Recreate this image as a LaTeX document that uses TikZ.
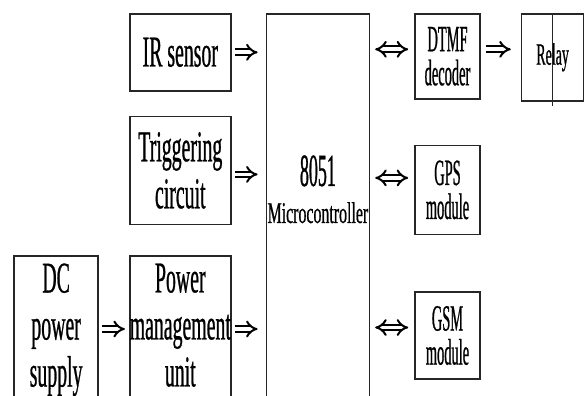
\documentclass[tikz,border=0pt]{standalone}
\usepackage{fontspec}
\setmainfont{Liberation Serif}
\newfontfamily\boxfont[FakeStretch=0.45, FakeBold=0.6]{Liberation Serif}
\newfontfamily\narrowfont[FakeStretch=0.39, FakeBold=0.6]{Liberation Serif}
\newfontfamily\mcufont[FakeStretch=0.53, FakeBold=0.6]{Liberation Serif}
\usetikzlibrary{arrows.meta, positioning}

\begin{document}
\begin{tikzpicture}[
  x=1pt, y=-1pt,
  block/.style={rectangle, draw=black!85, line width=1.6pt, inner sep=0pt, align=center, font=\boxfont\fontsize{44}{47}\selectfont},
  modblock/.style={block, minimum width=65pt, font=\narrowfont\fontsize{37}{34}\selectfont},
  arrow/.style={double, double distance=3.6pt, line width=2pt, draw=black, -{Implies[scale=1.9]}},
  biarrow/.style={arrow, {Implies[scale=1.9]}-{Implies[scale=1.9]}}
]
\useasboundingbox (0,0) rectangle (584,396);
\clip (0,0) rectangle (584,396);

% Inputs
\node[block, minimum width=101pt, minimum height=77pt, anchor=north west] (ir) at (129,13) {IR sensor};
\node[block, minimum width=101pt, minimum height=108pt, below=24pt of ir] (trig) {Triggering\\circuit};
\node[block, minimum width=101pt, minimum height=150pt, text depth=12pt, below=30pt of trig] (pmu) {Power\\management\\unit};
\node[block, minimum width=84pt, minimum height=150pt, text depth=12pt, left=30pt of pmu] (dc) {DC\\power\\supply};

% Controller
\node[block, minimum width=103pt, minimum height=389pt, anchor=north west] (mcu) at ([xshift=34pt]ir.north east) {};
\node[align=center, inner sep=0pt, font=\narrowfont\fontsize{46}{37}\selectfont] (mcutext) at ([yshift=19pt]mcu.center) {8051\\{\mcufont\fontsize{30}{37}\selectfont Microcontroller}};

% Outputs
\node[modblock, minimum height=85pt, anchor=north west] (dtmf) at ([xshift=44pt]mcu.north east) {DTMF\\decoder};
\node[block, minimum width=62pt, minimum height=87pt, anchor=north west, font=\boxfont\fontsize{31}{34}\selectfont] (relay) at ([xshift=40pt]dtmf.north east) {Relay};
\node[modblock, minimum height=89pt, below=45pt of dtmf] (gps) {GPS\\module};
\node[modblock, minimum height=87pt, below=56pt of gps] (gsm) {GSM\\module};
\draw[line width=1.6pt, black!85] (relay.north) -- ([yshift=-4pt]relay.south);

% Arrows
\draw[arrow, shorten <=3pt, shorten >=8pt] (ir.east) -- (ir.east -| mcu.west);
\draw[arrow, shorten <=3pt, shorten >=8pt] ([yshift=-4pt]trig.east) -- ([yshift=-4pt]trig.east -| mcu.west);
\draw[arrow, shorten <=3pt, shorten >=8pt] ([yshift=2pt]pmu.east) -- ([yshift=2pt]pmu.east -| mcu.west);
\draw[arrow, shorten <=3pt, shorten >=4pt] ([yshift=2pt]dc.east) -- ([yshift=2pt]pmu.west);
\draw[biarrow, shorten <=5pt, shorten >=6pt] ([yshift=7pt]dtmf.west -| mcu.east) -- ([yshift=7pt]dtmf.west);
\draw[biarrow, shorten <=5pt, shorten >=6pt] ([yshift=12pt]gps.west -| mcu.east) -- ([yshift=12pt]gps.west);
\draw[biarrow, shorten <=5pt, shorten >=6pt] ([yshift=8pt]gsm.west -| mcu.east) -- ([yshift=8pt]gsm.west);
\draw[arrow, shorten <=5pt, shorten >=10pt] ([yshift=7pt]dtmf.east) -- ([yshift=7pt]dtmf.east -| relay.west);

\end{tikzpicture}
\end{document}
